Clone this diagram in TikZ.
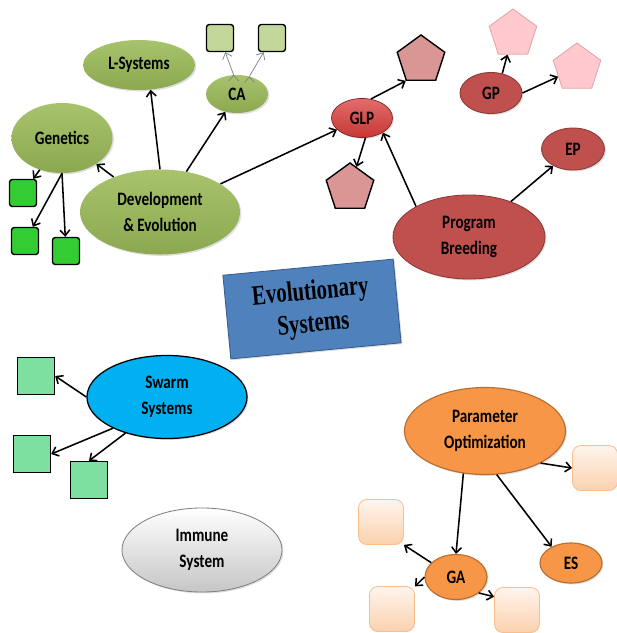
\documentclass[tikz,border=0pt]{standalone}
\usepackage{fontspec}
\usepackage{tikz}
\usepackage{xcolor}
\usetikzlibrary{shapes.geometric}
\usetikzlibrary{arrows.meta}
\usetikzlibrary{shadows}
\newfontfamily\nodefont[FakeStretch=0.8]{Carlito}
\newfontfamily\titlefont[FakeStretch=0.74]{Liberation Serif}
\definecolor{leafgreen}{HTML}{9BBB59}
\definecolor{palegreen}{HTML}{C4D79B}
\definecolor{brightgreen}{HTML}{33CC33}
\definecolor{mintgreen}{HTML}{7DE0A0}
\definecolor{glpred}{HTML}{D83C3A}
\definecolor{brick}{HTML}{C0504D}
\definecolor{brickdark}{HTML}{8C3836}
\definecolor{dustypink}{HTML}{D99694}
\definecolor{lightpink}{HTML}{FFC9CE}
\definecolor{pinkline}{HTML}{E6A3A6}
\definecolor{steelblue}{HTML}{4F81BD}
\definecolor{steeldark}{HTML}{385D8A}
\definecolor{skyblue}{HTML}{00B0F0}
\definecolor{tangerine}{HTML}{F79646}
\definecolor{tangerinedark}{HTML}{B66D31}
\definecolor{peachline}{HTML}{F9BE8C}
\tikzset{>={Straight Barb[length=4pt,width=7pt]}}

\begin{document}
\begin{tikzpicture}[x=0.025cm, y=-0.025cm,
            bubble/.style={ellipse, inner sep=0pt, align=center,
                font=\nodefont\bfseries\fontsize{13.5}{18.5}\selectfont,
                drop shadow={opacity=0.25, shadow xshift=1pt, shadow yshift=-1pt}},
            greenbubble/.style={bubble, top color=leafgreen!88!white, bottom color=leafgreen!90!black},
            redbubble/.style={bubble, fill=brick, draw=brickdark, line width=0.6pt},
            orangebubble/.style={bubble, fill=tangerine, draw=tangerinedark, line width=0.8pt},
            box/.style={rectangle, rounded corners=2pt, draw=black, line width=1pt, minimum size=0.675cm},
            penta/.style={regular polygon, regular polygon sides=5, minimum size=1.25cm, inner sep=0pt},
            peach/.style={rectangle, rounded corners=6pt, minimum width=1.125cm, minimum height=1.125cm,
                top color=white!60!peachline!40!white, bottom color=peachline!70!white, draw=peachline, line width=0.6pt},
            link/.style={->, line width=1.1pt},
            thinlink/.style={->, line width=0.5pt, draw=gray}
        ]
            \useasboundingbox (0, 0) rectangle (617, 633);
            % development & evolution
            \node[greenbubble, minimum width=4cm, minimum height=2.125cm] (dev) at (160, 212) {Development\\\& Evolution};
            \node[greenbubble, minimum width=2.525cm, minimum height=1.75cm] (gen) at (62, 138) {Genetics};
            \node[greenbubble, minimum width=2.8cm, minimum height=1.25cm] (lsys) at (139, 65) {L-Systems};
            \node[greenbubble, minimum width=1.55cm, minimum height=0.95cm] (ca) at (237, 94) {CA};
            \node[box, fill=palegreen] (caone) at (220, 38) {};
            \node[box, fill=palegreen] (catwo) at (272, 38) {};
            \node[box, fill=brightgreen] (genone) at (23, 193) {};
            \node[box, fill=brightgreen] (gentwo) at (25, 241) {};
            \node[box, fill=brightgreen] (genthree) at (66, 251) {};
            % program breeding
            \node[bubble, top color=glpred!75!white, bottom color=glpred!92!black, draw=glpred!60!black, line width=0.5pt,
                minimum width=1.525cm, minimum height=0.975cm] (glp) at (362, 118) {GLP};
            \node[penta, fill=dustypink, draw=black, line width=1pt] (glpone) at (421, 60) {};
            \node[penta, fill=dustypink, draw=black, line width=1pt] (glptwo) at (350, 188) {};
            \node[redbubble, minimum width=1.55cm, minimum height=1.025cm] (gp) at (491, 93) {GP};
            \node[penta, fill=lightpink, draw=pinkline, line width=0.6pt] (gpone) at (513, 34) {};
            \node[penta, fill=lightpink, draw=pinkline, line width=0.6pt] (gptwo) at (577, 68) {};
            \node[redbubble, minimum width=1.575cm, minimum height=1.05cm] (ep) at (573, 149) {EP};
            \node[redbubble, minimum width=3.8cm, minimum height=2.1cm] (pb) at (469, 237) {Program\\Breeding};
            % label
            \node[rectangle, rotate=5.4, fill=steelblue, draw=steeldark, line width=0.6pt,
                minimum width=4.275cm, minimum height=2.1cm, align=center,
                font=\titlefont\bfseries\fontsize{20}{23}\selectfont,
                drop shadow={opacity=0.25, shadow xshift=1pt, shadow yshift=-1pt}] (evo) at (312, 309) {Evolutionary\\Systems};
            % swarm and immune
            \node[bubble, fill=skyblue, draw=black, line width=0.9pt, minimum width=4cm, minimum height=2.075cm] (sw) at (167, 397) {Swarm\\Systems};
            \node[box, rounded corners=0pt, fill=mintgreen, minimum size=0.925cm] (swone) at (36, 376) {};
            \node[box, rounded corners=0pt, fill=mintgreen, minimum size=0.925cm] (swtwo) at (32, 454) {};
            \node[box, rounded corners=0pt, fill=mintgreen, minimum size=0.925cm] (swthree) at (89, 480) {};
            \node[bubble, top color=white, bottom color=gray!45, draw=gray, line width=0.6pt,
                minimum width=4cm, minimum height=2.1cm] (im) at (202, 550) {Immune\\System};
            % parameter optimization
            \node[orangebubble, minimum width=4.025cm, minimum height=2.175cm] (po) at (485, 431) {Parameter\\Optimization};
            \node[orangebubble, minimum width=1.55cm, minimum height=1.125cm] (ga) at (456, 577) {GA};
            \node[orangebubble, minimum width=1.55cm, minimum height=1cm] (es) at (571, 563) {ES};
            \node[peach] (poone) at (595, 468) {};
            \node[peach] (gaone) at (381, 522) {};
            \node[peach] (gatwo) at (392, 609) {};
            \node[peach] (gathree) at (517, 610) {};
            % paths
            \path[link] (dev) edge (gen);
            \path[link] (dev.north) edge (lsys.-65);
            \path[link] (dev) edge (ca);
            \path[link] (dev) edge (glp);
            \path[thinlink] (ca.100) edge (caone);
            \path[thinlink] (ca.55) edge (catwo);
            \path[link] (gen.235) edge (genone);
            \path[link] (gen.south) edge (gentwo);
            \path[link] (gen.south) edge (genthree);
            \path[link] (glp.65) edge (glpone.corner 3);
            \path[link] (glp.-80) edge (glptwo);
            \path[link] (pb.150) edge (glp.-35);
            \path[link] (pb) edge (ep);
            \path[link] (gp.60) edge (gpone);
            \path[link] (gp.east) edge (gptwo);
            \path[link] (sw.west) edge (swone.east);
            \path[link] (sw.210) edge (swtwo.east);
            \path[link] (sw.221) edge (swthree.north);
            \path[link] (po.-30) edge (poone.west);
            \path[link] (po.-117) edge (ga.north);
            \path[link] (po.-75) edge (es.140);
            \path[link] (ga.150) edge (gaone.south east);
            \path[link] (ga.west) edge (gatwo);
            \path[link] (ga.-35) edge (gathree.150);
        \end{tikzpicture}
\end{document}
